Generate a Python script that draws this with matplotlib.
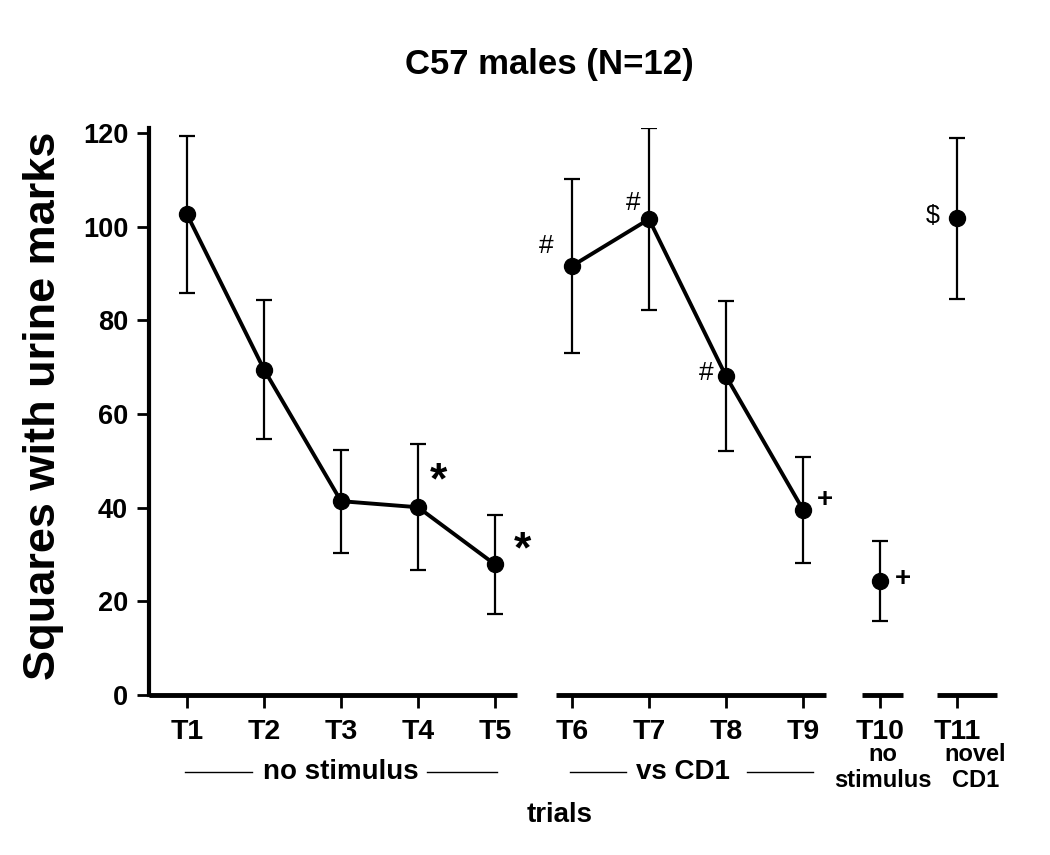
import numpy as np
import matplotlib
matplotlib.use("Agg")
import matplotlib.pyplot as plt
from matplotlib.transforms import blended_transform_factory
from matplotlib.lines import Line2D

plt.rcParams['font.family'] = ['Liberation Sans', 'DejaVu Sans']

# data
trials = ["T1", "T2", "T3", "T4", "T5", "T6", "T7", "T8", "T9", "T10", "T11"]
means = [102.6, 69.5, 41.4, 40.1, 27.9, 91.6, 101.6, 68.1, 39.6, 24.4, 101.8]
sem = [16.8, 14.9, 11.0, 13.4, 10.5, 18.5, 19.5, 16.0, 11.3, 8.5, 17.2]
# groups of trials joined by a line (1-based trial index)
groups = [[1, 2, 3, 4, 5], [6, 7, 8, 9], [10], [11]]

# significance marks: (trial, symbol, dx, y, bold)
marks = [
    (4, "*", 0.27, 45.5, True),
    (5, "*", 0.36, 30.7, True),
    (6, "#", -0.34, 95.9, False),
    (7, "#", -0.20, 105.0, False),
    (8, "#", -0.26, 68.8, False),
    (9, "+", 0.29, 41.7, True),
    (10, "+", 0.30, 24.8, True),
    (11, "$", -0.32, 102.2, False),
]

x = np.arange(1, len(trials) + 1)
means = np.array(means)
sem = np.array(sem)

fig = plt.figure(figsize=(10.5, 8.55), dpi=100)
ax = fig.add_axes([0.1419, 0.187, 0.8076, 0.663])

ax.errorbar(x, means, yerr=sem, fmt="none", ecolor="black", elinewidth=1.6,
            capsize=6, capthick=1.6, zorder=2)
for g in groups:
    gi = np.array(g) - 1
    ax.plot(x[gi], means[gi], color="black", lw=2.8, marker="o", ms=11.5,
            zorder=3)

sizes = {"*": 32, "#": 19, "+": 20, "$": 18}
for t, sym, dx, yy, bold in marks:
    ax.text(t + dx, yy, sym, ha="center", va="center", fontsize=sizes[sym],
            fontweight="bold" if bold else "normal")

ax.set_xlim(0.506, 11.52)
ax.set_ylim(0, 121)
ax.set_yticks([0, 20, 40, 60, 80, 100, 120])
ax.set_xticks(x)
ax.set_xticklabels(trials)

for s in ["top", "right", "bottom"]:
    ax.spines[s].set_visible(False)
ax.spines["left"].set_linewidth(3)

ax.tick_params(axis="y", length=9, width=2, labelsize=19.5, pad=6)
ax.tick_params(axis="x", length=9, width=2, labelsize=20.5, pad=8)
for lab in ax.get_xticklabels() + ax.get_yticklabels():
    lab.set_fontweight("bold")

# broken baseline
xt = ax.get_xaxis_transform()
for a, b in [(0.506, 5.29), (5.79, 9.30), (9.77, 10.30), (10.74, 11.52)]:
    ax.add_line(Line2D([a, b], [0, 0], color="black", lw=3.5,
                       transform=xt, clip_on=False, solid_capstyle="butt"))

# group captions below the axis
bt = blended_transform_factory(ax.transData, fig.transFigure)
ax.text(3, 0.097, "no stimulus", transform=bt, ha="center", va="center",
        fontsize=20, fontweight="bold")
ax.text(7.44, 0.097, "vs CD1", transform=bt, ha="center", va="center",
        fontsize=20, fontweight="bold")
for a, b in [(0.974, 1.844), (4.117, 5.026), (5.974, 6.70), (8.273, 9.13)]:
    fig.add_artist(Line2D([a, b], [0.0965, 0.0965], color="black", lw=1,
                          transform=bt))
ax.text(10.04, 0.1023, "no\nstimulus", transform=bt, ha="center",
        va="center", multialignment="center", fontsize=17,
        fontweight="bold", linespacing=1.2)
ax.text(11.24, 0.1023, "novel\nCD1", transform=bt, ha="center",
        va="center", multialignment="center", fontsize=17,
        fontweight="bold", linespacing=1.2)

fig.text(560 / 1050, 0.047, "trials", ha="center", va="center",
         fontsize=20, fontweight="bold")
fig.text(44 / 1050, 0.525, "Squares with urine marks", rotation=90,
         ha="center", va="center", fontsize=32.5, fontweight="bold")
fig.text(0.523, 0.924, "C57 males (N=12)", ha="center", va="center",
         fontsize=25, fontweight="bold")

fig.savefig("out.png", dpi=100)
